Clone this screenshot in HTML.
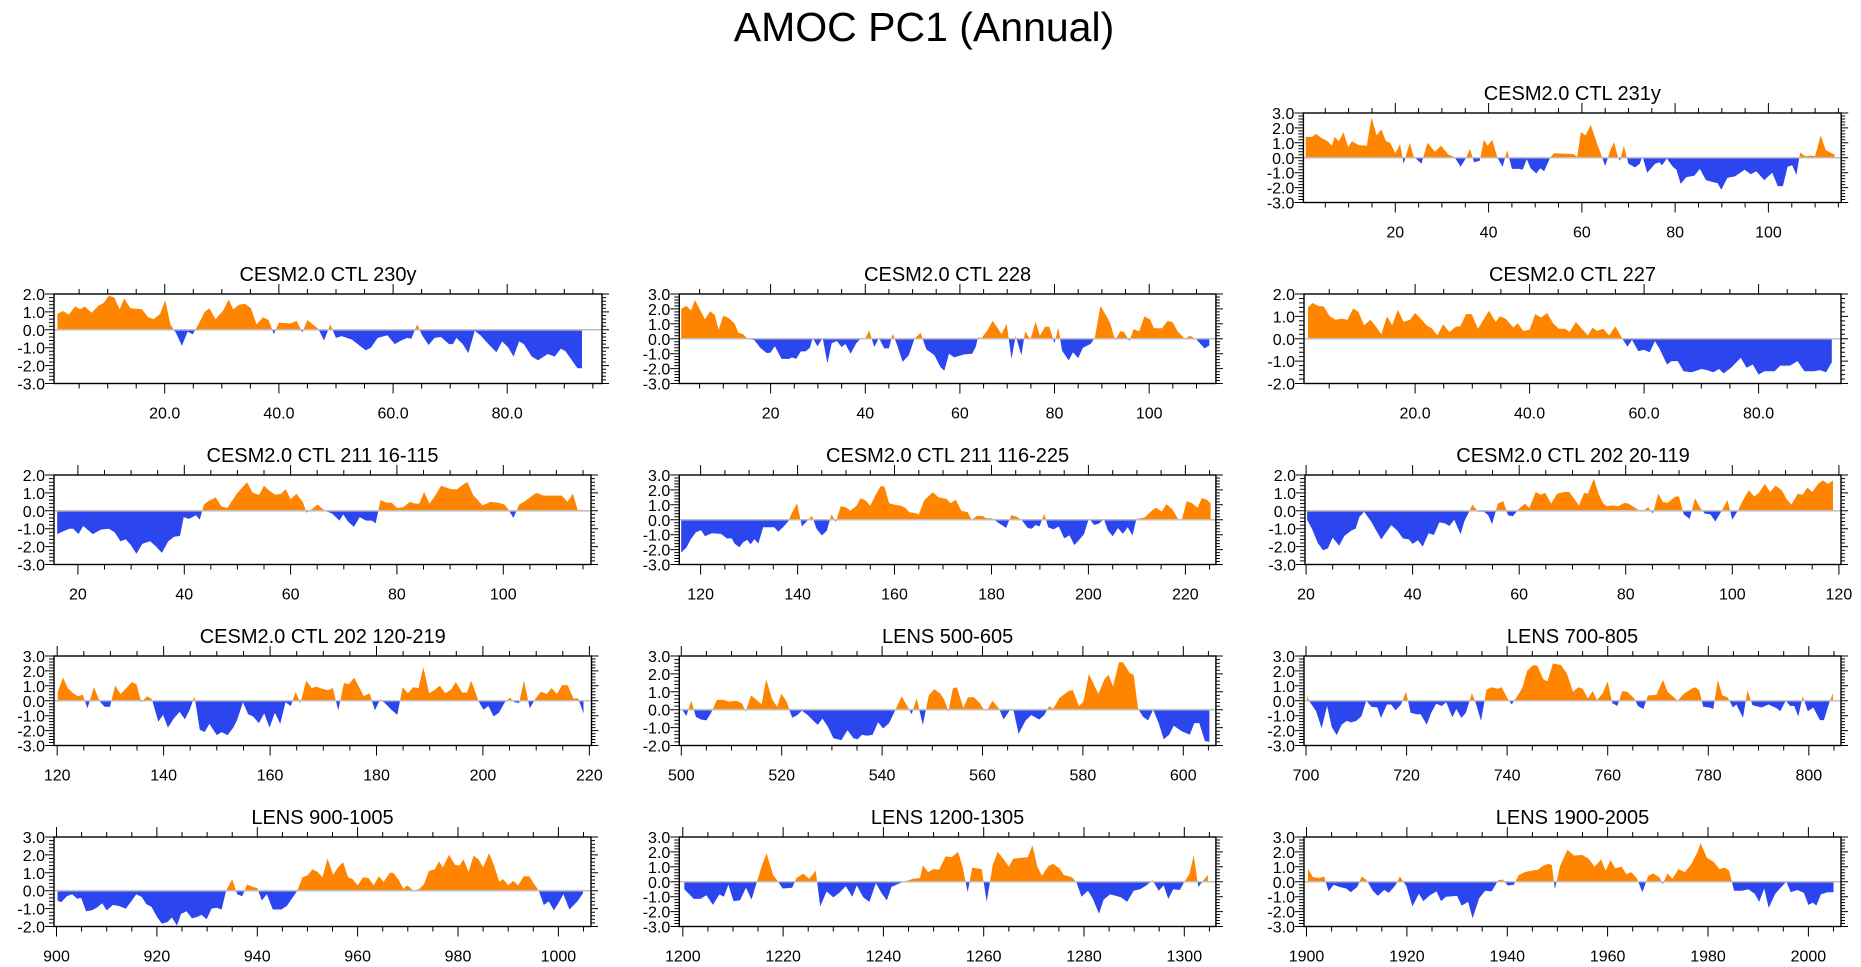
<!DOCTYPE html>
<html><head><meta charset="utf-8"><title>AMOC PC1 (Annual)</title>
<style>
html,body{margin:0;padding:0;background:#fff;}
svg{display:block;font-family:"Liberation Sans",Arial,sans-serif;}
</style></head>
<body>
<svg id="chart" width="1861" height="967" viewBox="0 0 1861 967" xmlns="http://www.w3.org/2000/svg">
<text x="924" y="41" font-size="41" text-anchor="middle" fill="#000">AMOC PC1 (Annual)</text>
</svg>
<script>
// ---- data ----
const yrs231=[0.8,2.2,3,4.3,5.5,6.4,7,7.9,8.9,9.9,10.7,12.2,13.9,14.9,16,17,18,18.9,20,21,21.8,23.1,23.9,25.6,26.9,28.5,29.8,31.4,32.7,34,35.2,36,36.9,38.1,39,39.8,40.8,41.9,43,44,45,46.5,47.3,48.2,49,50.2,51.1,51.9,53.2,54,58.2,59,59.8,60.8,61.9,63.2,65,66.1,66.9,67.8,68.2,69,70,71.4,72.4,73,74,75.7,76.6,77.2,78.2,79.5,80.3,81.2,82.4,84.1,85.3,86.6,88.3,89.1,89.9,91.2,92.8,94.9,96.2,97.4,99.1,100.8,102,103.1,104.1,105.1,106,106.8,107.9,109.1,110,111.2,112.3,114.2];
const val231=[1.4,1.4,1.6,1.3,1.1,0.8,1.4,1.1,1.7,0.7,1.1,0.85,0.8,2.7,1.5,1.9,1.1,1.0,0.3,0.9,-0.4,1.0,0.1,-0.4,1.0,0.4,0.8,0.2,0.05,-0.6,0,0.6,-0.3,-0.2,1.2,0.8,1.2,0,-0.6,0.5,-0.75,-0.75,-0.8,-0.1,-0.7,-1.05,-0.7,-0.9,0,0.3,0.25,0.05,1.7,1.5,2.2,1.0,-0.55,0.5,1.05,0,-0.2,0.8,-0.4,-0.65,-0.4,0.1,-1.0,-0.4,-0.3,-0.5,-0.05,-0.6,-0.8,-1.75,-1.3,-1.2,-0.75,-1.5,-1.65,-1.7,-2.15,-1.35,-1.25,-0.8,-1.1,-0.9,-1.5,-1.0,-1.9,-1.9,-0.6,-0.5,-1.15,0.35,0.1,0.15,0.1,1.5,0.5,0.2];

const yrs230=[1.2,2.2,3.2,4.3,5.2,6,7.2,8.4,9.3,10.2,11.2,12.1,12.9,14,16,17.1,18.1,19.2,20.1,21,22,23,24,24.9,25.9,27,27.8,28.9,30.3,31.2,32,33,34.1,35.1,36.1,37.2,38.2,39.1,40,42,43.1,44.1,45,46.9,47.9,49,50,51,52.8,54.2,55.2,56.1,57.3,59,60.3,61.4,62.5,63.2,64.2,65.1,66.2,67.3,68.4,69.8,70.5,71.1,72.2,73.2,74.3,75.3,76.7,78.1,79.1,80.2,81.1,82.1,82.9,84.3,85.4,87.1,88.3,89.4,90.2,92.3,93.1];
const val230=[0.9,1.05,0.85,1.3,1.15,1.3,0.95,1.35,1.5,1.9,1.8,1.15,1.75,1.2,1.15,0.7,0.6,0.9,1.65,0.3,-0.2,-0.9,-0.1,-0.25,0.3,1.0,1.2,0.6,1.1,1.7,1.15,1.4,1.45,1.2,0.3,0.7,0.55,-0.25,0.4,0.35,0.5,-0.15,0.55,0.05,-0.6,0.3,-0.45,-0.35,-0.55,-0.9,-1.15,-1.0,-0.45,-0.3,-0.8,-0.6,-0.45,-0.5,0.3,-0.3,-0.85,-0.45,-0.4,-0.8,-0.8,-0.45,-0.8,-1.3,-0.05,-0.3,-0.8,-1.25,-0.65,-1.0,-1.5,-0.65,-0.8,-1.5,-1.7,-1.35,-1.5,-1.05,-1.2,-2.15,-2.15];

const yrs228=[1.1,2.2,3.2,4,5,6.1,7.2,8.2,9,10,11.1,12.4,13.2,14.2,15.1,16.6,17.8,19.1,19.9,20.9,22.3,23.9,24.5,25.4,26.4,27.4,28.3,28.9,29.9,31,32,32.9,34,35,35.8,36.9,38.1,39,40,40.8,41.9,42.9,44,45,45.8,46.7,47.9,49.2,50.4,51.7,52.9,54.6,55.9,56.7,57.7,58.8,60.9,62.6,63.4,63.8,64.6,65.9,66.9,68,68.8,69.9,70.9,71.8,73,73.8,74.9,76,76.9,78,78.9,80,80.8,81.6,83,83.9,85,86,87.6,88.5,89.7,91,91.8,92.8,93.9,94.7,95.8,96.7,97.9,99,100.2,101,102.7,103.9,105,106,107.5,108.7,110,111.7,112.7];
const val228=[2.0,2.2,1.9,2.6,2.0,1.3,1.85,1.6,0.6,1.55,1.4,1.0,0.4,0.3,0,-0.1,-0.6,-0.95,-0.95,-0.5,-1.35,-1.35,-1.25,-1.35,-0.85,-0.85,-0.6,0.05,-0.5,0.05,-1.65,-0.3,-0.15,-0.55,-0.35,-1.0,-0.3,0,0,0.55,-0.55,0.05,-0.65,-0.65,0.35,-0.4,-1.55,-1.1,0,0.4,-0.7,-1.1,-1.9,-2.15,-1.0,-1.25,-1.05,-1.0,-0.5,0.1,0.05,0.6,1.2,0.7,0.3,1.0,-1.35,0.2,-1.1,0.5,-0.05,1.15,0.2,0.8,0.8,-0.3,0.75,-0.8,-1.45,-0.9,-1.3,-0.6,-0.35,0.05,2.2,1.5,1.0,-0.1,0.5,0.45,-0.15,0.65,0.5,1.5,1.3,0.7,0.7,1.2,1.1,0.5,0,0.2,-0.05,-0.65,-0.45];

const yrs227=[1.3,2.1,3.2,4,5.1,6.1,7.2,8.2,9.2,10.1,11.1,12.2,13,14.1,15.1,16,17,18,19.1,20,21,22,23,23.9,24.9,26,27.2,27.9,28.9,29.9,31,32.9,34.1,34.8,35.8,37.2,37.9,38.9,40,41,42,43.1,44.1,45.1,46.2,47,48.1,49.1,50.2,51,51.8,52.9,53.9,55,56.2,57.1,57.9,59,60,61,61.9,62.7,64,64.8,65.9,66.9,68.3,70,71,72.1,73.1,73.9,75.2,76.9,77.9,79,80,81,82.8,83.8,85.5,86.8,88,89.7,90.7,91.8,92.8];
const val227=[1.4,1.6,1.45,1.45,1.0,0.85,0.9,0.85,1.35,1.2,0.6,0.85,0.6,0.2,1.0,0.6,1.3,0.75,0.85,1.15,0.9,0.6,0.45,0.15,0.65,0.3,0.55,0.55,1.1,1.1,0.45,1.25,0.75,1.0,0.9,0.5,0.7,0.35,0.4,1.1,0.95,1.15,0.7,0.45,0.45,0.3,0.75,0.45,0.15,0.5,0.35,0.45,0.15,0.55,0,-0.35,-0.05,-0.55,-0.5,-0.6,-0.1,-0.45,-1.15,-1.0,-1.0,-1.45,-1.5,-1.35,-1.4,-1.5,-1.35,-1.55,-1.3,-0.85,-1.3,-1.15,-1.6,-1.45,-1.45,-1.2,-1.2,-1.0,-1.45,-1.45,-1.4,-1.5,-1.05];

const yrs211a=[16.1,17.2,18.4,19.1,20.1,21,22.8,24.3,25.8,26.9,28,29,29.9,31,32.1,33.6,34.7,35.8,37,38.1,39.2,39.9,40.9,42.2,42.9,43.7,44.6,45.9,47,48.1,50,51.8,52.9,54.1,55,55.9,57.1,58.2,59.1,60,61.1,62.3,63,63.8,65.1,66.4,67.8,69.2,69.9,70.8,71.9,73,74.2,75.3,76,76.9,78.1,79,80.1,81.2,82.4,83.5,84.2,85.1,86.1,87.2,88.3,90.2,91.3,92.8,93.3,94.3,96.1,97.6,99.1,100.2,100.9,101.9,103,103.9,105,106.2,107.6,111,112.1,113.1,114,115.1];
const val211a=[-1.3,-1.15,-1.0,-1.0,-1.3,-0.85,-1.3,-1.05,-1.0,-1.2,-1.7,-1.6,-1.9,-2.4,-1.85,-1.7,-2.0,-2.35,-1.7,-1.45,-1.4,-0.35,-0.45,-0.25,-0.5,0.35,0.55,0.75,0.25,0.15,1.0,1.6,1.0,0.9,1.4,1.15,0.9,0.95,1.2,0.65,0.95,0.5,-0.1,0.05,0.35,0,-0.15,-0.55,-0.2,-0.6,-0.9,-0.35,-0.55,-0.55,-0.7,0.6,0.45,0.45,0.15,0.2,0.5,0.4,0.4,1.05,0.4,0.85,1.4,1.2,1.2,1.55,1.6,0.9,0.3,0.5,0.45,0.35,0.1,-0.4,0.35,0.5,0.75,1.0,0.85,0.85,0.5,0.95,0.05,0.05];

const yrs211b=[116,117.1,118,119,120.1,120.9,122.3,124.2,125.4,126.4,127,128,128.8,129.6,130.3,131.1,131.9,132.9,135.2,136,137,138.1,138.9,139.9,140.9,141.9,143,143.9,145,146,147,147.9,148.9,149.9,150.9,152.2,153,154,155,156,157.1,157.9,158.9,160.1,161.3,162.2,163.1,164.2,165,166.1,167.1,167.9,169.1,170.7,171.6,172.6,173.8,175.1,175.9,177,178.1,178.9,180.1,181.4,182.6,183,184.1,185.2,186.3,187.5,188.3,189.1,189.9,190.9,191.7,192.8,193.9,195,196.1,197.1,198.1,199.1,200.1,201.2,202.2,203.2,204,205,206.1,207.1,208.1,209.1,209.9,211.6,213.2,214,215.1,216.1,217.3,218.5,219.3,220.3,221.4,222.5,223.4,224.4,225.2];
const val211b=[-2.2,-1.85,-1.3,-0.85,-0.7,-1.1,-0.9,-0.95,-1.25,-1.25,-1.6,-1.85,-1.5,-1.35,-1.65,-1.3,-1.6,-0.5,-0.5,-0.8,-0.5,-0.1,0.5,1.1,-0.45,-0.1,0.25,-0.6,-1.05,-0.75,0.35,-0.15,0.9,0.85,0.6,0.95,1.45,1.3,0.95,1.6,2.25,2.25,1.1,1.0,0.95,0.8,0.5,0.45,0.35,1.3,1.6,1.85,1.5,1.4,1.1,1.35,0.6,0.5,0,0.25,0.25,0.1,0.1,-0.2,-0.45,-0.55,0.3,0.2,-0.05,-0.55,-0.6,-0.35,-0.45,0.4,-0.5,-0.65,-0.45,-1.25,-1.05,-1.7,-1.35,-0.95,0.1,-0.35,-0.25,0.05,-0.7,-1.1,-0.55,-0.95,-0.5,-1.05,0.05,0.15,0.65,0.8,0.55,1.05,0.7,0.05,0.05,1.25,1.1,0.8,1.45,1.35,1.1];

const yrs202a=[20.2,21.1,22.2,23.2,24.1,25,26.2,27.2,28.5,29.3,30,30.9,32.2,34.1,36,37.1,38.2,39.3,40,41,41.9,43,44,45,46,46.9,47.8,49,49.7,50.7,51.2,52.3,53.4,54.2,54.9,56,57,57.9,58.8,60.1,61.1,61.9,63.1,64,64.9,66,67.1,68.6,69.4,70.5,71.2,72.2,72.9,74,74.9,75.7,76.4,77.5,78.6,79.8,80.5,81.6,82.4,83.1,84.2,85.1,86.1,87,87.9,89.3,90,90.9,92,93,93.9,94.8,95.9,96.8,97.9,99.1,100,101.2,102,103.1,104.1,105,106.1,107.1,108.1,109.3,110.2,111.1,112.3,113.2,114.1,115,116.1,117,118,118.9];
const val202a=[-0.5,-1.0,-1.8,-2.2,-2.1,-1.5,-1.95,-1.4,-1.1,-1.0,-0.35,-0.05,-0.6,-1.6,-0.8,-1.1,-1.55,-1.6,-1.85,-1.65,-2.0,-1.25,-1.35,-0.65,-0.7,-0.85,-0.5,-1.3,-0.6,0,0.35,-0.05,-0.05,-0.25,-0.75,0.4,0.55,-0.25,-0.3,0.15,0.4,0.15,1.05,0.9,1.0,0.4,0.95,1.05,1.05,0.6,0.3,1.0,0.95,1.8,0.95,0.45,0.25,0.3,0.25,0.45,0.4,0.2,0.05,-0.05,0.2,-0.15,0.95,0.5,0.45,0.8,0.8,-0.2,-0.45,0.7,0.2,-0.15,-0.2,-0.6,-0.05,0.6,-0.5,0.1,0.6,1.15,0.8,1.0,1.5,1.05,1.4,1.15,0.65,0.35,0.95,0.9,1.3,1.05,1.5,1.7,1.5,1.7];

const yrs202b=[120.1,121.1,122,123,123.9,124.8,125.7,126.9,128,128.9,129.9,130.9,131.9,133,134,134.9,135.8,136.9,137.8,139,139.9,140.8,141.9,143,144,144.9,145.8,146.8,147.7,148.6,150,150.9,152,153.1,153.8,154.9,155.9,156.8,157.9,158.9,159.9,160.9,161.9,162.9,163.9,164.8,165.7,166.8,167.8,168.7,169.8,170.9,171.8,172.8,173.9,174.8,175.8,176.7,177.6,178.7,179.7,180.7,181.7,182.8,183.9,184.9,185.9,186.9,187.9,188.8,189.9,191,191.9,192.9,194,194.9,196.1,197,197.8,199.2,200.1,201,202,203,204.2,205.1,205.9,206.8,207.7,208.8,209.9,210.9,212,212.9,213.9,214.9,215.9,217,217.9,218.9];
const val202b=[0.6,1.55,0.85,0.5,0.3,0.4,-0.5,0.9,-0.05,-0.4,-0.4,1.0,0.45,0.85,1.25,1.1,-0.1,0.3,0.1,-1.4,-0.95,-1.8,-1.2,-0.75,-1.25,-0.6,0.3,-1.95,-2.1,-1.55,-2.3,-2.1,-2.3,-1.8,-1.3,-0.1,-0.9,-1.05,-1.5,-0.85,-1.8,-0.8,-1.55,-0.1,-0.35,0.6,-0.15,1.35,0.85,0.95,0.8,0.7,0.85,-0.65,1.2,1.1,1.55,0.95,0.3,0.5,-0.65,0.1,-0.2,-0.6,-0.95,0.9,0.5,0.9,0.85,2.25,0.5,0.75,1.0,0.5,0.75,1.25,0.55,0.55,1.35,-0.05,-0.6,-0.35,-1.05,-0.8,-0.05,0.2,-0.1,-0.15,1.35,-0.5,0.15,0.6,0.45,0.85,0.45,1.05,1.05,0.15,0.15,-0.85];

const yrsL500=[500.2,501,502,502.9,503.9,505,505.9,507.1,508.3,509.5,511,512.1,512.8,513.9,515,516,516.9,518.1,519.1,519.9,520.9,522.1,523.1,524,525.2,526.4,527.2,528.1,529.2,530.3,531.9,533.1,534.3,535.1,536,537,538.1,539.2,540.2,541.4,542.6,543.9,545.3,545.9,546.9,548.1,549.3,550.4,551.6,552.4,553.2,554.1,554.9,556.2,557.1,558.3,559.5,560.3,561.1,562,563.3,564.2,565.4,566.2,567.2,568.6,569.7,571.3,572.3,573.3,574.1,575.3,577.2,578,579.2,580.1,581.2,582.2,583.1,584.3,585.1,586,587.2,588,589.3,590.1,591,592,593,594,595.1,596.1,597.2,598.1,599.7,601.3,602.2,603.2,604.3,605.2];
const valL500=[0,-0.35,0.5,-0.4,-0.55,-0.6,-0.2,0.55,0.55,0.45,0.5,0.35,-0.1,0.8,0.55,0.3,1.7,0.6,0.15,0.9,0.5,-0.45,-0.3,-0.05,-0.3,-0.65,-0.85,-0.5,-0.95,-1.6,-1.7,-1.15,-1.6,-1.65,-1.4,-1.45,-1.4,-0.7,-1.05,-0.75,-0.05,0.75,0.05,-0.25,0.65,-0.85,0.8,1.15,0.9,0.55,-0.1,1.2,1.25,0.1,0.7,0.7,0.35,0,0.05,0.5,0.05,-0.55,-0.05,-0.05,-1.35,-0.6,-0.3,-0.55,-0.3,0.2,0.05,0.65,1.05,1.1,0.2,0.45,2.0,1.4,0.9,1.7,1.95,1.3,2.65,2.65,2.05,1.95,0.05,-0.4,-0.6,0,-0.75,-1.65,-1.4,-0.9,-1.2,-1.4,-0.75,-0.75,-1.75,-1.8];

const yrsL700=[700.2,700.8,702,703.1,704.2,705.1,706.1,707.1,708.1,709,710,711,712,713,714.2,714.9,716.1,716.9,717.8,718.9,719.9,720.8,722,722.8,724,724.9,725.9,727,727.9,729.1,729.9,730.9,731.8,733,733.8,734.8,735.9,736.9,738.1,738.9,740.1,740.9,742.1,743,744,745.2,746,747.2,748,749.1,750.7,751.9,753.1,754.2,755,756.1,757,757.9,759,760,760.9,761.9,762.9,763.9,765.3,766,767.1,768,769.7,771,771.9,773.1,773.9,775.1,776.7,777.4,778.2,779,780.2,781,781.9,782.8,783.8,784.9,785.6,786.9,787.8,788.8,790.6,792,793.6,794.3,795.4,796.3,797.1,797.9,798.8,799.8,800.9,802.2,803,804.2,804.8];
const valL700=[0.3,-0.1,-0.7,-1.85,-0.35,-1.75,-2.3,-1.6,-1.35,-1.45,-1.35,-1.05,0,-0.4,-0.45,-1.15,-0.25,-0.25,-0.65,-0.25,0.6,-0.8,-0.9,-0.9,-1.6,-0.8,-0.2,-0.35,-0.1,-1.1,-0.55,-1.15,-0.8,0.5,-0.2,-1.35,0.75,0.9,0.8,0.9,0.15,-0.25,0.35,0.85,2.0,2.4,2.35,1.45,1.3,2.5,2.4,1.8,0.6,0.9,0.8,0.15,0.65,0.05,0.5,1.3,-0.15,-0.35,0.65,0.6,0.15,-0.35,-0.55,0.35,0.4,1.4,0.6,0.25,0,0.45,0.8,0.9,0.7,-0.4,-0.45,-0.55,1.4,0.35,0.25,-0.45,-0.25,-1.15,0.7,-0.3,-0.45,-0.25,-0.5,-0.7,0,-0.35,-0.35,-1.05,0.3,-0.7,-0.45,-1.3,-1.3,0,0.5];

const yrsL900=[900.2,900.9,902.1,903.1,904.1,904.9,905.9,907,908,909.1,910,911.2,912.4,913.8,914.9,915.9,917,917.9,918.9,920.1,921,922.1,923,924,924.8,925.9,927,928.1,928.9,929.9,930.9,931.9,932.9,933.8,935,936,937,938,939.2,940,940.9,941.9,943.1,944.8,945.9,947,948,949,950,951,952,953,954,955.1,956.1,957.1,958.1,959,960,961.1,962.2,963.2,964.2,965.2,966.4,967.1,968.2,969.1,969.9,971.1,972.3,973.2,974.2,975.4,976.2,977,978.2,979.4,980.3,981.1,982.1,983.1,984.1,985,986.2,987.2,988.2,989,990,991,992,993.1,994.2,995.1,996.1,997.1,998.1,999.1,1000,1001,1002.2,1003.8,1004.9];
const valL900=[-0.55,-0.65,-0.3,-0.2,-0.45,-0.4,-1.15,-1.1,-0.95,-0.7,-1.1,-0.8,-0.85,-1.0,-0.6,-0.2,-0.35,-0.75,-0.9,-1.5,-1.85,-1.75,-1.5,-1.95,-1.3,-1.15,-1.55,-1.45,-1.35,-1.6,-1.0,-0.95,-1.05,0,0.65,-0.2,-0.3,0.35,0.2,0.15,-0.55,-0.2,-1.05,-1.05,-0.85,-0.4,0,0.75,0.85,1.2,1.05,0.75,1.8,0.9,1.3,1.6,0.75,0.65,0.3,0.75,0.7,0.3,0.8,0.5,1.0,1.0,0.6,0.1,0.3,0,0.1,0.35,1.1,1.2,1.65,1.3,2.0,1.45,1.4,1.75,1.05,1.95,1.75,1.3,2.1,1.4,0.5,0.65,0.3,0.55,0.3,0.8,0.8,0.4,0,-0.8,-0.6,-1.1,-0.7,-0.2,-1.05,-0.6,-0.15];

const yrsL1200=[1200.3,1202.2,1203.5,1204.7,1206,1207.3,1208.2,1209.1,1210.1,1211.4,1212.6,1213.7,1214.8,1215.8,1216.7,1218,1218.9,1219.9,1221.8,1222.7,1224,1225.2,1226.5,1227.4,1228.7,1230,1231.2,1232.5,1233.8,1234.7,1236,1237.2,1238.5,1239.7,1240.7,1241.6,1242.9,1244.5,1246,1247.3,1247.9,1248.9,1250,1251.1,1252.4,1253.6,1254.9,1255.8,1256.8,1257.7,1259.6,1260.6,1261.8,1262.8,1264,1265,1265.9,1267.5,1268.8,1269.7,1270.7,1271.6,1272.9,1273.8,1275.1,1276,1277.6,1278.5,1279.5,1280.8,1281.7,1283,1283.9,1285.2,1286.4,1287.4,1288.6,1289.9,1291.2,1292.4,1293.7,1294.9,1295.9,1296.8,1297.8,1299.1,1300,1301,1301.9,1302.8,1303.8,1304.7];
const valL1200=[-0.5,-1.15,-1.15,-0.9,-1.55,-0.85,-1.0,-0.2,-1.3,-1.25,-0.4,-1.2,0,1.1,1.9,0.45,0.05,-0.45,-0.4,0.25,0.55,0.2,0.75,-1.65,-0.65,-1.05,-0.75,-0.3,-1.0,-0.25,-1.05,-1.35,-0.1,-0.8,-1.25,-0.35,-0.15,0.05,0.2,0.25,1.1,0.65,0.85,0.8,1.7,1.65,2.0,1.0,-0.7,0.95,0.85,-1.35,1.1,2.0,1.5,1.0,1.55,1.6,1.65,2.45,1.0,0.4,1.05,1.2,0.9,0.45,0.3,-0.05,-1.0,-0.6,-1.1,-2.15,-1.2,-0.85,-0.95,-1.05,-1.35,-0.6,-0.5,-0.25,0.1,-0.6,-0.25,-1.15,-0.5,-0.55,0,0.5,1.75,-0.35,0.1,0.45];

const yrsL1900=[1900.3,1901.3,1902.5,1903.5,1904.4,1905.4,1906.6,1907.9,1908.8,1910.1,1911,1912,1913.2,1914.2,1915.5,1916.4,1917.7,1918.6,1919.9,1921.1,1922.4,1923.3,1924.6,1925.9,1926.8,1927.8,1930,1930.9,1932.2,1933.1,1934.4,1935.6,1936.9,1938.2,1939.1,1940.1,1941.3,1942.3,1943.5,1944.8,1946.1,1947.3,1948.3,1948.9,1949.5,1950.5,1952,1953.3,1954.9,1956.2,1957.4,1958.7,1959.6,1960.6,1961.5,1962.8,1963.7,1964.7,1965.9,1966.9,1968.1,1969.1,1970.3,1971,1971.9,1972.9,1974.1,1975.4,1976.7,1977.9,1978.5,1979.8,1981.1,1982.3,1983.3,1984.2,1985.2,1986.8,1988,1989.3,1990.2,1991.2,1992.1,1993.4,1994.6,1995.6,1996.5,1997.8,1999.1,2000,2000.9,2001.6,2002.5,2003.8,2005];
const valL1900=[0.85,0.3,0.25,0.35,-0.65,-0.2,-0.35,-0.45,-0.7,-0.35,0.35,0.1,-0.6,-0.95,-0.55,-0.75,-0.25,0.35,-0.3,-1.65,-0.8,-1.3,-0.9,-0.65,-1.3,-1.0,-0.95,-1.6,-1.35,-2.45,-1.1,-0.6,-0.65,0.1,0.15,-0.25,-0.2,0.45,0.65,0.75,0.8,1.1,1.2,1.1,-0.5,1.05,2.15,1.75,1.8,1.55,1.0,1.5,0.75,1.45,0.9,1.0,0.5,0.65,0.2,-0.7,0.4,0.55,0.3,-0.15,0.55,0.2,0.85,0.65,1.2,2.0,2.6,1.6,1.35,0.85,0.95,0.75,-0.6,-0.6,-0.5,-0.8,-1.35,-0.45,-1.75,-0.8,-0.35,0,-0.7,-0.55,-0.75,-1.55,-1.4,-1.6,-0.85,-0.7,-0.7];

// tick values and labels
const ticksSmall=[20,40,60,80,100];
const labelsSmall=['20','40','60','80','100'];
const ticksDec=[20,40,60,80];
const labelsDec=['20.0','40.0','60.0','80.0'];
const ticks120=[20,40,60,80,100,120];
const labels120=['20','40','60','80','100','120'];
const ticks211b=[120,140,160,180,200,220];
const labels211b=['120','140','160','180','200','220'];
const ticksL500=[500,520,540,560,580,600];
const labelsL500=['500','520','540','560','580','600'];
const ticksL700=[700,720,740,760,780,800];
const labelsL700=['700','720','740','760','780','800'];
const ticksL900=[900,920,940,960,980,1000];
const labelsL900=['900','920','940','960','980','1000'];
const ticksL1200=[1200,1220,1240,1260,1280,1300];
const labelsL1200=['1200','1220','1240','1260','1280','1300'];
const ticksL1900=[1900,1920,1940,1960,1980,2000];
const labelsL1900=['1900','1920','1940','1960','1980','2000'];

// ---- layout (not data) ----
const panels=[
 {id:'ctl-231y',title:'CESM2.0 CTL 231y',L:1303.4,R:1841.2,T:113,ymin:-3,ymax:3,xmin:0.3,xmax:115.6,xs:yrs231,ys:val231,tk:ticksSmall,tl:labelsSmall},
 {id:'ctl-230y',title:'CESM2.0 CTL 230y',L:54,R:602,T:294,ymin:-3,ymax:2,xmin:0.6,xmax:96.6,xs:yrs230,ys:val230,tk:ticksDec,tl:labelsDec},
 {id:'ctl-228',title:'CESM2.0 CTL 228',L:679.3,R:1215.9,T:294,ymin:-3,ymax:3,xmin:0.7,xmax:114.1,xs:yrs228,ys:val228,tk:ticksSmall,tl:labelsSmall},
 {id:'ctl-227',title:'CESM2.0 CTL 227',L:1304,R:1841,T:294,ymin:-2,ymax:2,xmin:0.6,xmax:94.4,xs:yrs227,ys:val227,tk:ticksDec,tl:labelsDec},
 {id:'ctl-211-16-115',title:'CESM2.0 CTL 211 16-115',L:54,R:591,T:475,ymin:-3,ymax:2,xmin:15.5,xmax:116.5,xs:yrs211a,ys:val211a,tk:ticksSmall,tl:labelsSmall},
 {id:'ctl-211-116-225',title:'CESM2.0 CTL 211 116-225',L:679.3,R:1215.9,T:475,ymin:-3,ymax:3,xmin:115.6,xmax:226.3,xs:yrs211b,ys:val211b,tk:ticks211b,tl:labels211b},
 {id:'ctl-202-20-119',title:'CESM2.0 CTL 202 20-119',L:1305,R:1841,T:475,ymin:-3,ymax:2,xmin:19.8,xmax:120.4,xs:yrs202a,ys:val202a,tk:ticks120,tl:labels120},
 {id:'ctl-202-120-219',title:'CESM2.0 CTL 202 120-219',L:54,R:591.5,T:656,ymin:-3,ymax:3,xmin:119.4,xmax:220.4,xs:yrs202b,ys:val202b,tk:ticks211b,tl:labels211b},
 {id:'lens-500-605',title:'LENS 500-605',L:679.3,R:1215.9,T:656,ymin:-2,ymax:3,xmin:499.6,xmax:606.5,xs:yrsL500,ys:valL500,tk:ticksL500,tl:labelsL500},
 {id:'lens-700-805',title:'LENS 700-805',L:1304,R:1841,T:656,ymin:-3,ymax:3,xmin:699.6,xmax:806.4,xs:yrsL700,ys:valL700,tk:ticksL700,tl:labelsL700},
 {id:'lens-900-1005',title:'LENS 900-1005',L:54,R:591,T:837,ymin:-2,ymax:3,xmin:899.5,xmax:1006.5,xs:yrsL900,ys:valL900,tk:ticksL900,tl:labelsL900},
 {id:'lens-1200-1305',title:'LENS 1200-1305',L:679.3,R:1215.9,T:837,ymin:-3,ymax:3,xmin:1199.3,xmax:1306.3,xs:yrsL1200,ys:valL1200,tk:ticksL1200,tl:labelsL1200},
 {id:'lens-1900-2005',title:'LENS 1900-2005',L:1304,R:1841,T:837,ymin:-3,ymax:3,xmin:1899.5,xmax:2006.5,xs:yrsL1900,ys:valL1900,tk:ticksL1900,tl:labelsL1900}
];
const H=89.5;
const NS='http://www.w3.org/2000/svg';
const svg=document.getElementById('chart');
function mk(tag,attrs,parent){const e=document.createElementNS(NS,tag);for(const k in attrs)e.setAttribute(k,attrs[k]);(parent||svg).appendChild(e);return e;}
const defs=mk('defs',{});

panels.forEach((p,pi)=>{
  const B=p.T+H;
  const sx=v=>p.L+(v-p.xmin)/(p.xmax-p.xmin)*(p.R-p.L);
  const sy=v=>B-(v-p.ymin)/(p.ymax-p.ymin)*H;
  const g=mk('g',{});
  
  
  const y0=sy(0);
  const cpA=mk('clipPath',{id:'ca'+pi},defs);mk('rect',{x:p.L,y:p.T,width:p.R-p.L,height:y0-p.T},cpA);
  const cpB=mk('clipPath',{id:'cb'+pi},defs);mk('rect',{x:p.L,y:y0,width:p.R-p.L,height:B-y0},cpB);
  let d='M'+sx(p.xs[0]).toFixed(1)+','+y0.toFixed(1);
  for(let i=0;i<p.xs.length;i++)d+='L'+sx(p.xs[i]).toFixed(1)+','+sy(p.ys[i]).toFixed(1);
  d+='L'+sx(p.xs[p.xs.length-1]).toFixed(1)+','+y0.toFixed(1)+'Z';
  const pos=mk('path',{d:d,fill:'#ff8500','clip-path':'url(#ca'+pi+')'},g);
  
  
  const neg=mk('path',{d:d,fill:'#2b45ef','clip-path':'url(#cb'+pi+')'},g);
  
  
  const zl=mk('line',{x1:p.L,x2:p.R,y1:y0,y2:y0,stroke:'#c0c0c0','stroke-width':1.6},g);
  
  
  const fr=mk('rect',{x:p.L,y:p.T,width:p.R-p.L,height:H,fill:'none',stroke:'#000','stroke-width':1.4},g);
  
  
  let tp='';
  for(let v=Math.ceil(p.xmin/5)*5;v<=p.xmax;v+=5){
    const X=sx(v).toFixed(1);
    const major=p.tk.indexOf(v)>=0;
    const len=major?10:5;
    tp+='M'+X+','+p.T+'v'+(-len)+'M'+X+','+B+'v'+len;
  }
  const steps=Math.round((p.ymax-p.ymin)/0.2);
  for(let i=0;i<=steps;i++){
    const v=p.ymin+i*0.2;
    const Y=sy(v).toFixed(1);
    const major=i%5===0;
    tp+='M'+p.L+','+Y+'h'+(major?-9:-5)+'M'+p.R+','+Y+'h'+(major?7:4);
  }
  const tk=mk('path',{d:tp,stroke:'#000','stroke-width':1,fill:'none'},g);
  
  
  p.tk.forEach((v,i)=>{
    const t=mk('text',{x:sx(v),y:B+35,'font-size':16,'text-anchor':'middle',fill:'#000'},g);
    
    
    t.textContent=p.tl[i];
  });
  for(let v=p.ymin;v<=p.ymax;v++){
    const t=mk('text',{x:p.L-9,y:sy(v)+6,'font-size':16,'text-anchor':'end',fill:'#000'},g);
    
    
    t.textContent=v.toFixed(1);
  }
  const tt=mk('text',{x:(p.L+p.R)/2,y:p.T-13,'font-size':20,'text-anchor':'middle',fill:'#000'},g);
  
  
  tt.textContent=p.title;
});
</script>
</body></html>
